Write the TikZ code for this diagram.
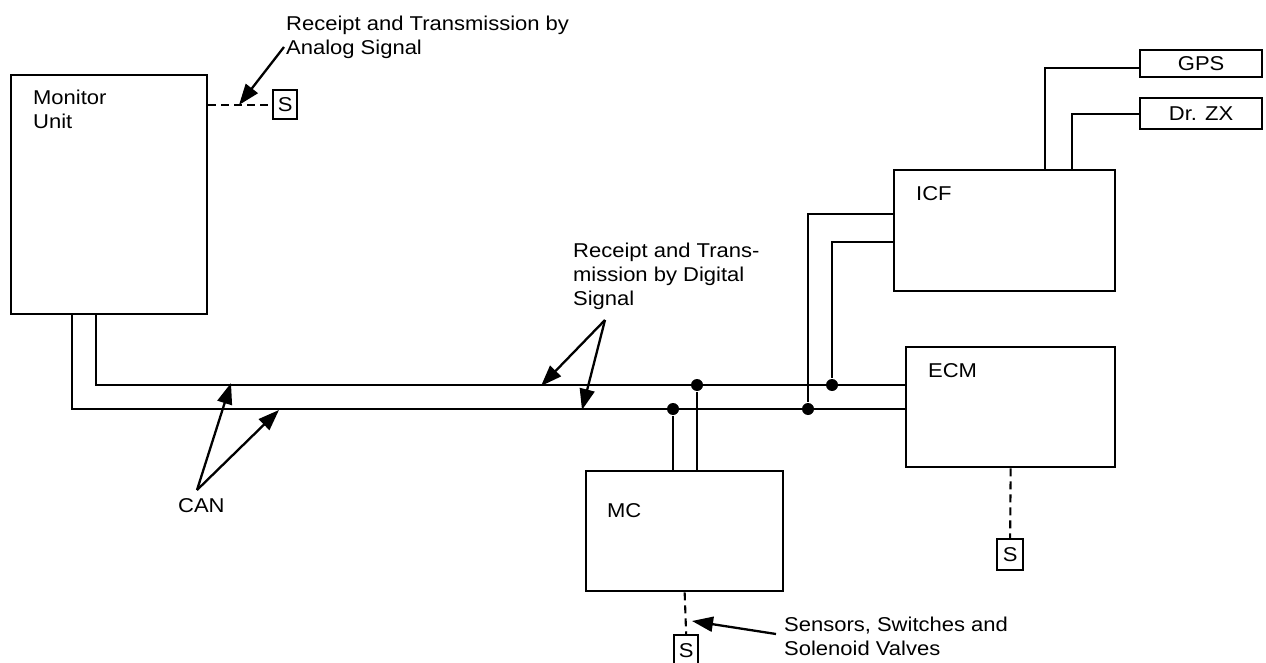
\documentclass[tikz,border=0pt]{standalone}
\usepackage{fontspec}
\setmainfont{Liberation Sans}[FakeStretch=1.1]
\usetikzlibrary{arrows.meta,calc}
\begin{document}
\begin{tikzpicture}[x=1pt,y=-1pt,line width=2.3pt,
  box/.style={draw,line width=2.3pt,inner sep=0,anchor=north west},
  lbl/.style={inner sep=0,anchor=north west,align=left,font=\fontsize{20}{24}\selectfont},
  sbox/.style={box,font=\fontsize{20}{24}\selectfont},
  dot/.style={circle,fill=black,inner sep=0,minimum size=12pt},
  dsh/.style={line width=2.1pt,dash pattern=on 8pt off 5pt},
  arr/.style={line width=2.3pt,-{Triangle[length=21pt,width=15pt]}}]
\useasboundingbox (0,0) rectangle (1266,663);
% boxes
\node[box,minimum width=196pt,minimum height=239pt] (mon) at (10,74) {};
\node[lbl] (monT) at (32,89) {Monitor\\Unit};
\node[box,minimum width=221pt,minimum height=121pt] (icf) at (893,169) {};
\node[lbl] (icfT) at (915,185) {ICF};
\node[box,minimum width=209pt,minimum height=120pt] (ecm) at (905,346) {};
\node[lbl] (ecmT) at (927,362) {ECM};
\node[box,minimum width=197pt,minimum height=120pt] (mc) at (585,470) {};
\node[lbl] (mcT) at (606,502) {MC};
\node[sbox,minimum width=122pt,minimum height=27pt] (gps) at (1139,49) {GPS};
\node[sbox,minimum width=122pt,minimum height=31pt] (drzx) at (1139,97) {Dr. ZX};
\node[sbox,minimum width=24pt,minimum height=29pt] (s1) at (272,89) {S};
\node[sbox,minimum width=26pt,minimum height=31pt] (s2) at (996,538) {S};
\node[sbox,minimum width=24pt,minimum height=30pt] (s3) at (673,634) {S};
% labels
\node[lbl] (anT) at (285,15) {Receipt and Transmission by\\Analog Signal};
\node[lbl] (digT) at (572,242) {Receipt and Trans-\\mission by Digital\\Signal};
\node[lbl] (canT) at (177,497) {CAN};
\node[lbl] (senT) at (783,616) {Sensors, Switches and\\Solenoid Valves};
% junctions
\node[dot] (j1) at (697,385) {};
\node[dot] (j2) at (673,409) {};
\node[dot] (j3) at (808,409) {};
\node[dot] (j4) at (832,385) {};
\coordinate (cA) at (72,313);
\coordinate (cB) at (96,313);
\coordinate (i1) at (893,214);
\coordinate (i2) at (893,242);
\coordinate (g1) at (1045,169);
\coordinate (g2) at (1139,68);
\coordinate (d1) at (1072,169);
\coordinate (d2) at (1139,114);
% CAN bus
\draw (cB) |- (ecm.west |- j1);
\draw (cA) |- (ecm.west |- j2);
\draw (j2) -- (j2 |- mc.north);
\draw (j1) -- (j1 |- mc.north);
\draw (j3) |- (i1);
\draw (j4) |- (i2);
\draw (g1) |- (g2);
\draw (d1) |- (d2);
% dashed sensor links
\draw[dsh] (mon.east |- s1) -- (s1.west);
\draw[dsh] (ecm.south) -- (s2.north);
\draw[dsh] (mc.south) -- (s3.north);
% pointer arrows
\coordinate (aA) at (284,47);  \coordinate (tA) at (239,105);
\coordinate (aC) at (197,490); \coordinate (tC1) at (231,383); \coordinate (tC2) at (279,410);
\coordinate (aD) at (605,320); \coordinate (tD1) at (541,386); \coordinate (tD2) at (582,410);
\coordinate (aS) at (776,634); \coordinate (tS) at (692,621);
\draw[arr] (aA) -- (tA);
\draw[arr] (aC) -- (tC1);
\draw[arr] (aC) -- (tC2);
\draw[arr] (aD) -- (tD1);
\draw[arr] (aD) -- (tD2);
\draw[arr] (aS) -- (tS);
\end{tikzpicture}
\end{document}
